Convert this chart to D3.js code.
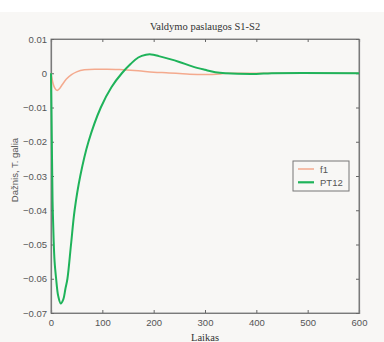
<!DOCTYPE html>
<html><head><meta charset="utf-8">
<script src="https://cdn.jsdelivr.net/npm/d3@7"></script>
<style>html,body{margin:0;padding:0;background:#f8f7f5;}svg{display:block;}</style>
</head><body>
<script>
const title = "Valdymo paslaugos S1-S2";
const xLabel = "Laikas";
const yLabel = "Dažnis, T. galia";
const xTicks = [0,100,200,300,400,500,600];
const yTicks = [0.01,0,-0.01,-0.02,-0.03,-0.04,-0.05,-0.06,-0.07];
const seriesNames = ["f1","PT12"];
const f1T = [0,2,4,8,12,16,22,30,40,50,65,85,110,140,170,200,230,250,270,300,330,345,600];
const f1V = [0,-0.0015,-0.003,-0.0045,-0.005,-0.0046,-0.0033,-0.0017,-0.0004,0.0004,0.001,0.0012,0.0012,0.001,0.0007,0.0003,0.0001,-0.0001,-0.0003,-0.0004,-0.0002,0,0];
const pt12T = [0,1,2,3,5,7,10,14,19,24,28,32,39,46,57,73,97,118,138,155,170,185,195,210,230,250,275,300,320,340,400,430,600];
const pt12V = [0,-0.012,-0.025,-0.037,-0.048,-0.055,-0.06,-0.065,-0.0672,-0.066,-0.063,-0.06,-0.05,-0.04,-0.03,-0.02,-0.01,-0.004,0,0.0027,0.0046,0.0054,0.0055,0.005,0.0042,0.0033,0.002,0.001,0.0003,0,-0.0002,0,0];
const colors = ["#f4aa8e","#1fb35a"];

const W=384,H=342;
const svg=d3.select("body").append("svg").attr("width",W).attr("height",H);
svg.append("rect").attr("width",W).attr("height",H).attr("fill","#f8f7f5");
svg.append("rect").attr("width",W).attr("height",12).attr("fill","#ffffff");

const L=51,R=359,T=39,B=313;
const x=d3.scaleLinear().domain([0,600]).range([L,R]);
const y=d3.scaleLinear().domain([-0.07,0.01]).range([B,T]);

const axCol="#7a7a7a";
// box
svg.append("rect").attr("x",L).attr("y",T).attr("width",R-L).attr("height",B-T)
  .attr("fill","none").attr("stroke","#8a8a8a").attr("stroke-width",1);

const fmtY=d=>d===0?"0":d3.format(".2f")(d);
const gB=svg.append("g").attr("transform",`translate(0,${B})`)
  .call(d3.axisBottom(x).tickValues(xTicks).tickSize(-3).tickPadding(6).tickFormat(d3.format("d")));
const gT=svg.append("g").attr("transform",`translate(0,${T})`)
  .call(d3.axisTop(x).tickValues(xTicks).tickSize(-3).tickFormat(""));
const gL=svg.append("g").attr("transform",`translate(${L},0)`)
  .call(d3.axisLeft(y).tickValues(yTicks).tickSize(-3).tickPadding(5).tickFormat(fmtY));
const gR=svg.append("g").attr("transform",`translate(${R},0)`)
  .call(d3.axisRight(y).tickValues(yTicks).tickSize(-3).tickFormat(""));
[gB,gT,gL,gR].forEach(g=>{
  g.select(".domain").attr("stroke",axCol).attr("stroke-width",1.2);
  g.selectAll(".tick line").attr("stroke","#666");
  g.selectAll("text").attr("fill","#555").attr("font-family","Liberation Sans, Arial, sans-serif").attr("font-size",9.5);
});
gL.selectAll("text").attr("dx","1");

const line=d3.line().x(d=>x(d[0])).y(d=>y(d[1])).curve(d3.curveMonotoneX);
const f1=f1T.map((t,i)=>[t,f1V[i]]);
const pt=pt12T.map((t,i)=>[t,pt12V[i]]);
svg.append("path").datum(f1).attr("d",line).attr("fill","none").attr("stroke",colors[0]).attr("stroke-width",1.5);
svg.append("path").datum(pt).attr("d",d3.line().x(d=>x(d[0])).y(d=>y(d[1])).curve(d3.curveCatmullRom.alpha(0.5))).attr("fill","none").attr("stroke",colors[1]).attr("stroke-width",2);

// title and labels
svg.append("text").attr("x",205).attr("y",30).attr("text-anchor","middle")
  .attr("font-family","Liberation Serif, Times New Roman, serif").attr("font-size",10.5).attr("fill","#333").text(title);
svg.append("text").attr("x",205).attr("y",341).attr("text-anchor","middle")
  .attr("font-family","Liberation Serif, Times New Roman, serif").attr("font-size",10.5).attr("fill","#333").text(xLabel);
svg.append("text").attr("transform","translate(18,170) rotate(-90)").attr("text-anchor","middle")
  .attr("font-family","Liberation Sans, Arial, sans-serif").attr("font-size",9.5).attr("fill","#555").text(yLabel);

// legend
const lg=svg.append("g");
lg.append("rect").attr("x",293).attr("y",161).attr("width",56).attr("height",30).attr("fill","#f8f7f5").attr("stroke","#777").attr("stroke-width",1);
seriesNames.forEach((n,i)=>{
  const yy=169+i*13.3;
  lg.append("line").attr("x1",298).attr("x2",314).attr("y1",yy).attr("y2",yy).attr("stroke",colors[i]).attr("stroke-width",i?2.2:1.5);
  lg.append("text").attr("x",320).attr("y",yy+3.5).attr("font-family","Liberation Sans, Arial, sans-serif").attr("font-size",9.5).attr("fill","#555").text(n);
});
</script>
</body></html>
